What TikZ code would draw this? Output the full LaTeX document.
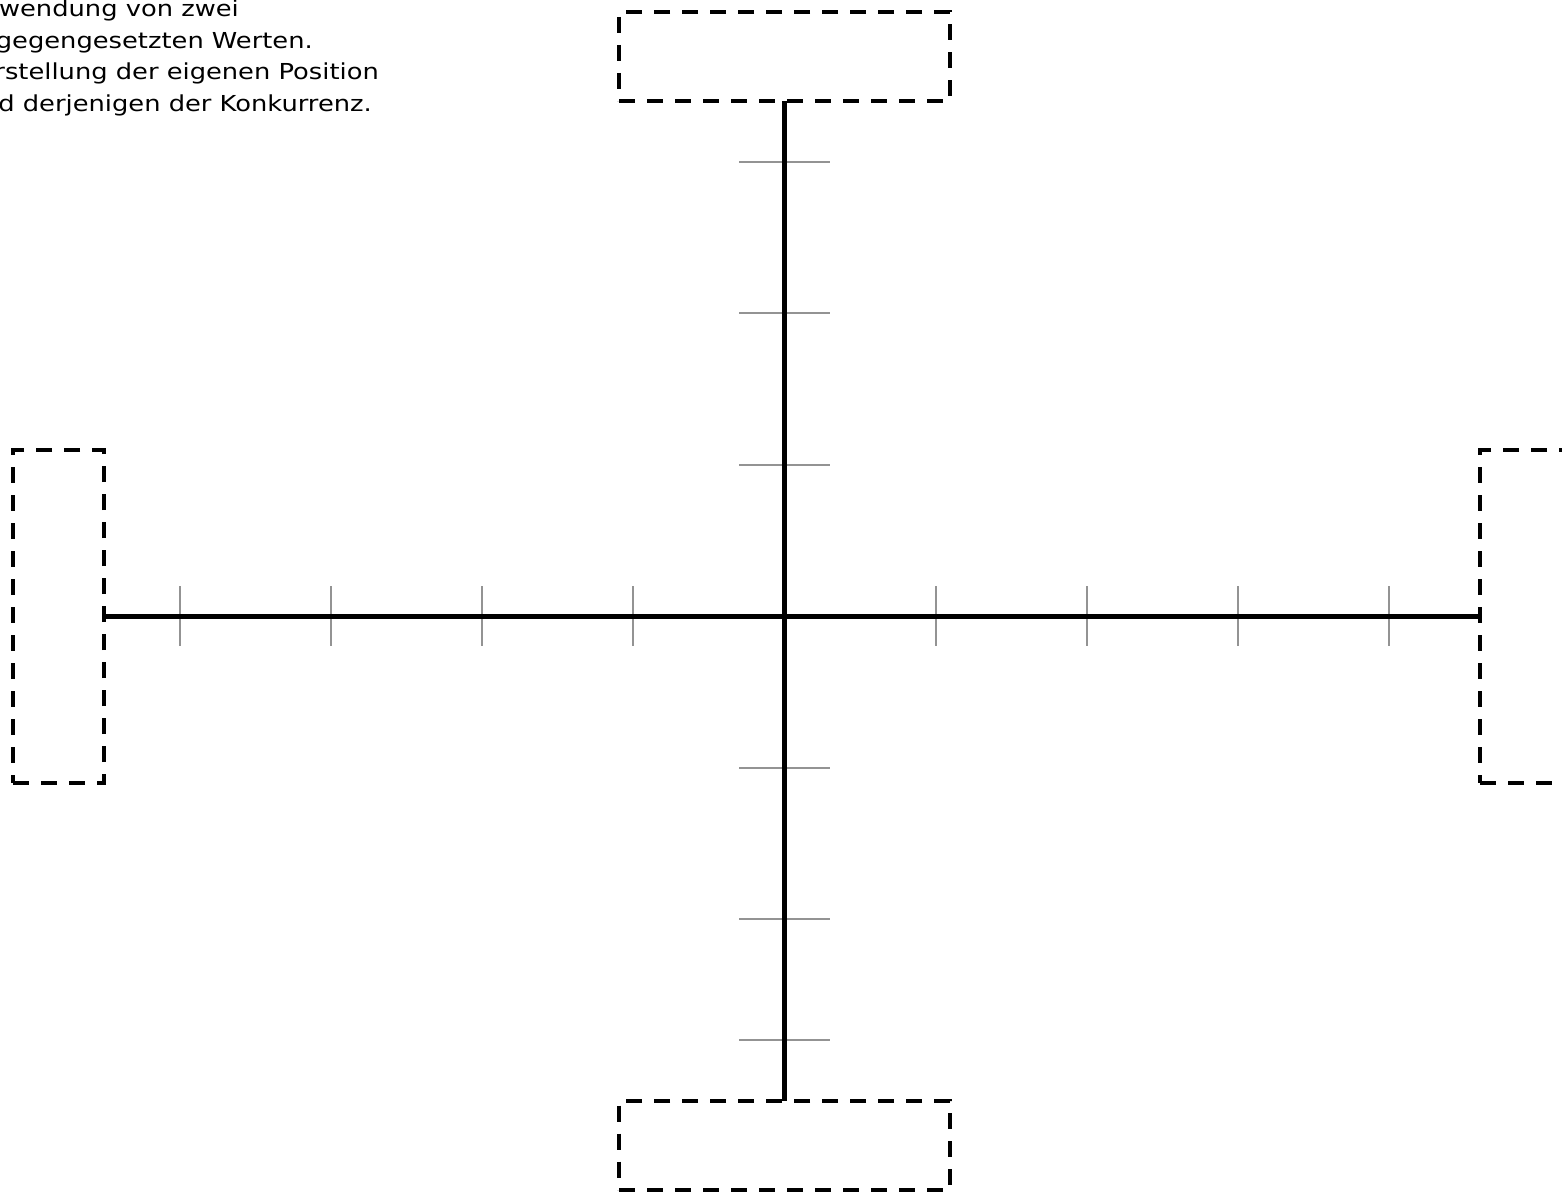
\documentclass[tikz,border=0pt]{standalone}
\usepackage{fontspec}
\setmainfont{DejaVu Sans}
\newfontfamily\notefont[FakeStretch=1.17]{DejaVu Sans}
\begin{document}
\begin{tikzpicture}[x=1pt,y=-1pt,
  dbox/.style={draw=black,line width=4pt,dash pattern=on 16pt off 12pt,inner sep=0pt,outer sep=0pt,fill=none},
  hbox/.style={dbox,minimum width=331pt,minimum height=89pt},
  vbox/.style={dbox,minimum width=91pt,minimum height=333pt},
  axisline/.style={line width=5pt,draw=black},
  tickline/.style={line width=2pt,draw=gray!85},
  noteline/.style={anchor=base east,inner sep=0pt,font=\notefont\fontsize{22}{31.67}\selectfont}
]
\useasboundingbox (0,0) rectangle (1562,1193);
\node[noteline] (t1) at (239,17) {Anwendung von zwei};
\node[noteline] (t2) at (313,48.5) {entgegengesetzten Werten.};
\node[noteline] (t3) at (379,80) {Darstellung der eigenen Position};
\node[noteline] (t4) at (372,111.5) {und derjenigen der Konkurrenz.};
\node[hbox] (top) at (784.5,56.5) {};
\node[hbox] (bot) at (784.5,1145) {};
\node[vbox] (lft) at (58.5,616.5) {};
\node[vbox] (rgt) at (1525.5,616.5) {};
% ticks
\foreach \x in {180,331,482,633,936,1087,1238,1389}
  \draw[tickline] (\x,586) -- (\x,646);
\foreach \y in {162,313,465,768,919,1040}
  \draw[tickline] (739,\y) -- (830,\y);
\draw[axisline] (lft.east) -- (rgt.west);
\draw[axisline] (top.south) -- (bot.north);
\end{tikzpicture}
\end{document}
